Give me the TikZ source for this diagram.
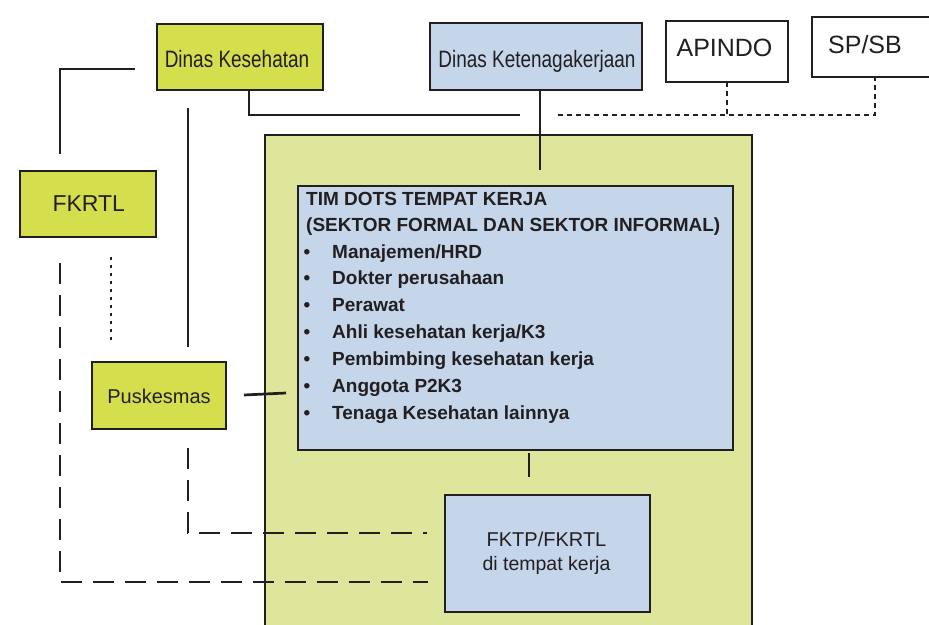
\documentclass[tikz,border=0pt]{standalone}
\usepackage{fontspec}
\setmainfont{Liberation Sans}
\newfontfamily\narrowfont[FakeStretch=0.8]{Liberation Sans}
\definecolor{lc}{RGB}{35,31,32}
\definecolor{greenA}{RGB}{213,223,77}
\definecolor{greenB}{RGB}{221,230,154}
\definecolor{blueA}{RGB}{197,214,235}
\newcommand{\fs}[1]{\fontsize{#1}{#1}\selectfont}
\begin{document}
\begin{tikzpicture}[x=1pt,y=-1pt,
 box/.style={draw=lc, line width=2.4pt, inner sep=0pt, outer sep=0pt},
 conn/.style={draw=lc, line width=2.7pt},
 dashline/.style={conn, dash pattern=on 21pt off 11pt},
 dotline/.style={conn, line width=2.5pt, dash pattern=on 5pt off 4pt},
 finedot/.style={conn, line width=2.5pt, dash pattern=on 3pt off 5pt},
 lab/.style={anchor=base, inner sep=0pt, text=lc},
 timtxt/.style={anchor=base west, inner sep=0pt, text=lc, font=\bfseries\fs{19}},
]
\useasboundingbox (0,0) rectangle (929,624);
\clip (0,0) rectangle (929,624);

% boxes
\node[box, fill=greenB, minimum width=487pt, minimum height=505pt] (big) at (508.5,387.5) {};
\node[box, fill=greenA, minimum width=166pt, minimum height=66pt] (dinkes) at (240,57) {};
\node[box, fill=blueA, minimum width=212pt, minimum height=67pt] (naker) at (536,56.5) {};
\node[box, fill=white, minimum width=122pt, minimum height=61pt] (apindo) at (727,51.5) {};
\node[box, fill=white, minimum width=126pt, minimum height=60pt] (spsb) at (875,47) {};
\node[box, fill=greenA, minimum width=136pt, minimum height=66pt] (fkrtl) at (88,204) {};
\node[box, fill=greenA, minimum width=134pt, minimum height=67pt] (pusk) at (159,395.5) {};
\node[box, fill=blueA, minimum width=435pt, minimum height=264pt] (tim) at (515.5,318) {};
\node[box, fill=blueA, minimum width=205pt, minimum height=117pt] (fktp) at (547.5,553.5) {};

% labels
\node[lab, font=\narrowfont\fs{23.7}] (dinkesT) at (237,67) {Dinas Kesehatan};
\node[lab, font=\narrowfont\fs{23.7}] (nakerT) at (537,67) {Dinas Ketenagakerjaan};
\node[lab, font=\fs{25}] (apindoT) at (724.5,56) {APINDO};
\node[lab, font=\fs{25}] (spsbT) at (865,53) {SP/SB};
\node[lab, font=\fs{23}] (fkrtlT) at (88.8,211) {FKRTL};
\node[lab, font=\fs{20}] (puskT) at (159,403) {Puskesmas};
\node[lab, font=\fs{20}] (fktpT1) at (546.5,546) {FKTP/FKRTL};
\node[lab, font=\fs{19.5}] (fktpT2) at (546.5,570) {di tempat kerja};

\node[timtxt] (t1) at (306,205) {TIM DOTS TEMPAT KERJA};
\node[timtxt] (t2) at (306,231.5) {(SEKTOR FORMAL DAN SEKTOR INFORMAL)};
\foreach \txt [count=\k from 0] in {Manajemen/HRD, Dokter perusahaan, Perawat, Ahli kesehatan kerja/K3, Pembimbing kesehatan kerja, Anggota P2K3, Tenaga Kesehatan lainnya}{
  \node[timtxt] (item\k) at (332,258+26.9*\k) {\txt};
  \node[lab, font=\bfseries\fs{19}] (bul\k) at (307,258+26.9*\k) {\textbullet};
}

% free ends
\coordinate (a1) at (135,69);
\coordinate (a2) at (60,154);
\coordinate (b1) at (188,108);
\coordinate (b2) at (188,347);
\coordinate (c1) at (520,115);
\coordinate (d1) at (558,115);
\coordinate (e1) at (540,170);
\coordinate (f1) at (111,257);
\coordinate (f2) at (111,344);
\coordinate (g1) at (60,263);
\coordinate (g2) at (428,582);
\coordinate (h1) at (244,395);
\coordinate (h2) at (286,393);
\coordinate (i1) at (188,448);
\coordinate (i2) at (427,533);
\coordinate (j1) at (529,453);
\coordinate (j2) at (529,477);

% connectors
\draw[conn] (a1) -| (a2);
\draw[conn] (b1) -- (b2);
\draw[conn] ([xshift=9pt]dinkes.south) |- (c1);
\draw[conn] ([xshift=4pt]naker.south) -- (e1);
\draw[dotline] (d1) -| (spsb.south);
\draw[dotline] (apindo.south) -- (apindo.south |- d1);
\draw[finedot] (f1) -- (f2);
\draw[dashline] (g1) |- (g2);
\draw[conn] (h1) -- (h2);
\draw[dashline] (i1) |- (i2);
\draw[conn] (j1) -- (j2);
\end{tikzpicture}
\end{document}
